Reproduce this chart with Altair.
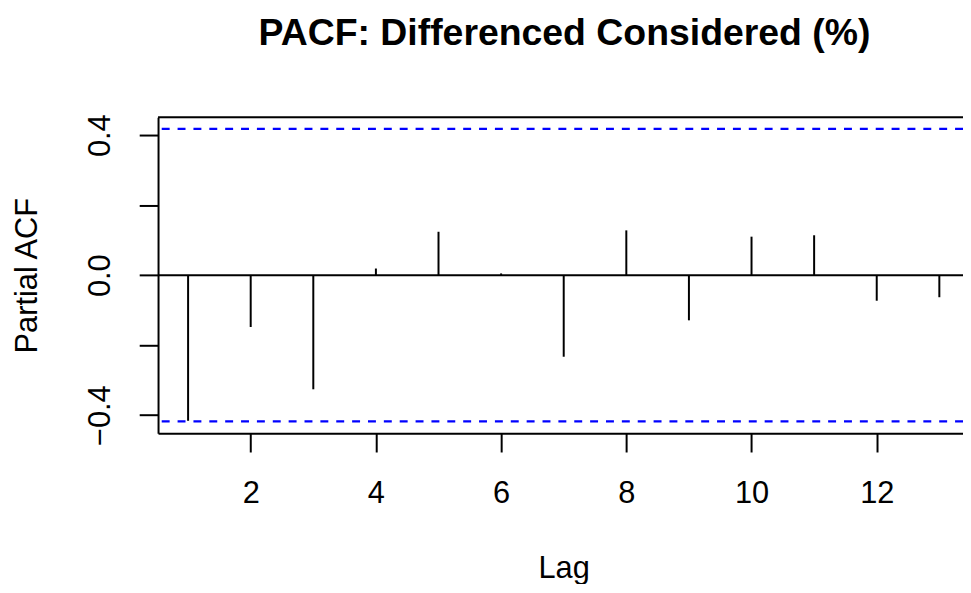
import altair as alt
import pandas as pd

# ---- data ----
lags = list(range(1, 14))
pacf_values = [-0.416, -0.148, -0.326, 0.019, 0.124, 0.005, -0.233,
               0.128, -0.129, 0.110, 0.114, -0.073, -0.063]
ci_bounds = [0.4179, -0.4179]
x_ticks = [2, 4, 6, 8, 10, 12]
y_ticks = [-0.4, -0.2, 0.0, 0.2, 0.4]

X_DOMAIN = [0.52, 13.378]
Y_DOMAIN = [-0.4513, 0.4513]
FONT = "Liberation Sans"

spikes_df = pd.DataFrame({"lag": lags, "pacf": pacf_values,
                          "base": [0.0] * len(lags)})
ci_df = pd.DataFrame({"ci": ci_bounds})
zero_df = pd.DataFrame({"v": [0.0]})
top_df = pd.DataFrame({"v": [Y_DOMAIN[1]]})

x_scale = alt.Scale(domain=X_DOMAIN, nice=False, zero=False)
y_scale = alt.Scale(domain=Y_DOMAIN, nice=False, zero=False)

LW = 2

x_axis = alt.Axis(
    values=x_ticks, format="d", title="Lag", grid=False,
    domain=True, domainColor="black", domainWidth=LW,
    ticks=True, tickSize=19, tickColor="black", tickWidth=LW,
    labelFont=FONT, labelFontSize=31, labelColor="black",
    labelBaseline="alphabetic", labelPadding=50.7, labelFlush=False,
    labelOverlap=False,
    titleFont=FONT, titleFontSize=31, titleFontWeight="normal",
    titleColor="black", titleBaseline="alphabetic", titleY=145.7,
    titleX=409, titleAlign="center",
)
y_axis = alt.Axis(
    values=y_ticks, title="Partial ACF", grid=False,
    labelExpr="abs(abs(datum.value)-0.2) < 0.01 ? '' : (datum.value < -0.01 ? '\u2212' : '') + format(abs(datum.value), '.1f')",
    domain=True, domainColor="black", domainWidth=LW,
    ticks=True, tickSize=19, tickColor="black", tickWidth=LW,
    labelFont=FONT, labelFontSize=31, labelColor="black",
    labelAngle=270, labelAlign="center", labelBaseline="alphabetic",
    labelPadding=30.3, labelFlush=False, labelOverlap=False,
    titleFont=FONT, titleFontSize=31, titleFontWeight="normal",
    titleColor="black", titleAngle=270, titleAlign="center",
    titleBaseline="alphabetic", titleX=-122.3, titleY=159.3,
)

spikes = alt.Chart(spikes_df).mark_rule(color="black", strokeWidth=LW).encode(
    x=alt.X("lag:Q", scale=x_scale, axis=x_axis),
    y=alt.Y("pacf:Q", scale=y_scale, axis=y_axis),
    y2="base:Q",
)

zero_line = alt.Chart(zero_df).mark_rule(color="black", strokeWidth=LW).encode(
    y=alt.Y("v:Q", scale=y_scale, axis=y_axis)
)

ci_lines = alt.Chart(ci_df).mark_rule(
    color="#0000FF", strokeWidth=2.2, strokeDash=[8, 8]
).encode(y=alt.Y("ci:Q", scale=y_scale, axis=y_axis))

top_border = alt.Chart(top_df).mark_rule(color="black", strokeWidth=LW).encode(
    y=alt.Y("v:Q", scale=y_scale, axis=y_axis)
)

chart = alt.layer(ci_lines, zero_line, spikes, top_border).properties(
    width=811.7,
    height=318.6,
    title=alt.TitleParams(
        "PACF: Differenced Considered (%)", font=FONT, fontSize=37.7,
        fontWeight="bold", color="black", anchor="middle",
        baseline="alphabetic", offset=32, dx=4,
    ),
    autosize=alt.AutoSizeParams(type="none"),
    padding={"left": 151.3, "top": 107.7, "right": 0, "bottom": 150},
).configure_view(stroke=None).configure(background="white")

chart.save("out.html", embed_options={"renderer": "svg", "actions": False})
